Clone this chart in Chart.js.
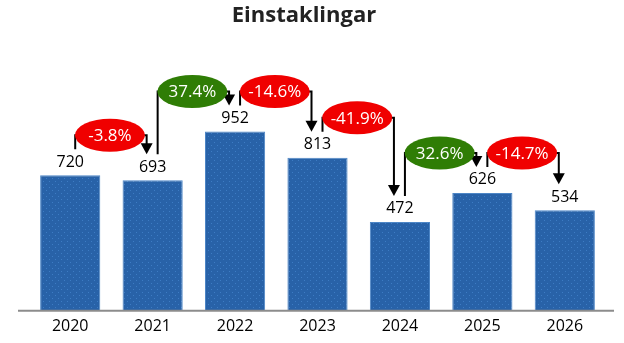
<!DOCTYPE html>
<html>
<head>
<meta charset="utf-8">
<script src="https://cdn.jsdelivr.net/npm/chart.js@4/dist/chart.umd.min.js"></script>
<style>
  html, body { margin: 0; padding: 0; background: #fff; }
  #wrap { width: 624px; height: 343px; }
</style>
</head>
<body>
<div id="wrap"><canvas id="einstaklingar"></canvas></div>
<script>
const years = ["2020", "2021", "2022", "2023", "2024", "2025", "2026"];
const counts = [720, 693, 952, 813, 472, 626, 534];
const changes = ["-3.8%", "37.4%", "-14.6%", "-41.9%", "32.6%", "-14.7%"];

const FONT = "'Open Sans', 'Noto Sans', sans-serif";

// small dotted tile to mimic the speckled bar fill
const makePattern = () => {
  const c = document.createElement("canvas");
  c.width = 6;
  c.height = 6;
  const g = c.getContext("2d");
  g.fillStyle = "#2862a8";
  g.fillRect(0, 0, 6, 6);
  g.fillStyle = "#3d7cc4";
  g.fillRect(1, 1, 1, 1);
  g.fillRect(4, 4, 1, 1);
  return g.createPattern(c, "repeat");
};

// title, value labels, change brackets and baseline
const annotations = {
  id: "annotations",
  afterDatasetsDraw(chart) {
    const { ctx, chartArea } = chart;
    const bars = chart.getDatasetMeta(0).data;

    ctx.save();
    // title (sits a little left of centre in the original)
    ctx.fillStyle = "#222";
    ctx.font = "bold 22px " + FONT;
    ctx.textAlign = "center";
    ctx.textBaseline = "middle";
    ctx.fillText("Einstaklingar", chart.width / 2 - 8, 16);

    // baseline
    ctx.strokeStyle = "#8c8c8c";
    ctx.lineWidth = 2;
    ctx.beginPath();
    ctx.moveTo(chartArea.left - 11, chartArea.bottom);
    ctx.lineTo(chartArea.right + 8, chartArea.bottom);
    ctx.stroke();

    // numbers above bars
    ctx.fillStyle = "#000";
    ctx.font = "16px " + FONT;
    bars.forEach((bar, i) => {
      ctx.fillText(counts[i], bar.x, bar.y - 13);
    });

    // brackets with arrows and change ellipses
    changes.forEach((txt, i) => {
      const a = bars[i];
      const b = bars[i + 1];
      const x1 = a.x + 5;
      const x2 = b.x - 6;
      const y1 = a.y - 26;
      const y2 = b.y - 26;
      const level = Math.min(y1, y2) - 14;

      ctx.strokeStyle = "#000";
      ctx.lineWidth = 2;
      ctx.beginPath();
      ctx.moveTo(x1, y1);
      ctx.lineTo(x1, level);
      ctx.lineTo(x2, level);
      ctx.lineTo(x2, y2 - 9);
      ctx.stroke();

      ctx.fillStyle = "#000";
      ctx.beginPath();
      ctx.moveTo(x2 - 6, y2 - 11);
      ctx.lineTo(x2 + 6, y2 - 11);
      ctx.lineTo(x2, y2);
      ctx.closePath();
      ctx.fill();

      const cx = (x1 + x2) / 2 - 1;
      ctx.fillStyle = txt.startsWith("-") ? "#f00000" : "#2f7d05";
      ctx.beginPath();
      ctx.ellipse(cx, level, 35, 16.5, 0, 0, Math.PI * 2);
      ctx.fill();

      ctx.fillStyle = "#fff";
      ctx.font = "17px " + FONT;
      ctx.fillText(txt, cx, level + 1);
    });
    ctx.restore();
  },
};

const ctx = document.getElementById("einstaklingar").getContext("2d");
new Chart(ctx, {
  type: "bar",
  data: {
    labels: years,
    datasets: [
      {
        data: counts,
        backgroundColor: makePattern(),
        borderColor: "#4d86c6",
        borderWidth: 1,
        barPercentage: 0.73,
        categoryPercentage: 1,
      },
    ],
  },
  options: {
    responsive: true,
    maintainAspectRatio: false,
    animation: false,
    layout: {
      padding: { left: 29, right: 18, top: 66, bottom: 1 },
    },
    plugins: {
      legend: { display: false },
      tooltip: { enabled: false },
      title: { display: false },
    },
    scales: {
      x: {
        grid: { display: false, drawTicks: false },
        border: { display: false },
        ticks: {
          color: "#000",
          padding: 6,
          font: { family: FONT, size: 16 },
        },
      },
      y: {
        display: false,
        min: 0,
        max: 1300,
      },
    },
  },
  plugins: [annotations],
});
</script>
</body>
</html>
